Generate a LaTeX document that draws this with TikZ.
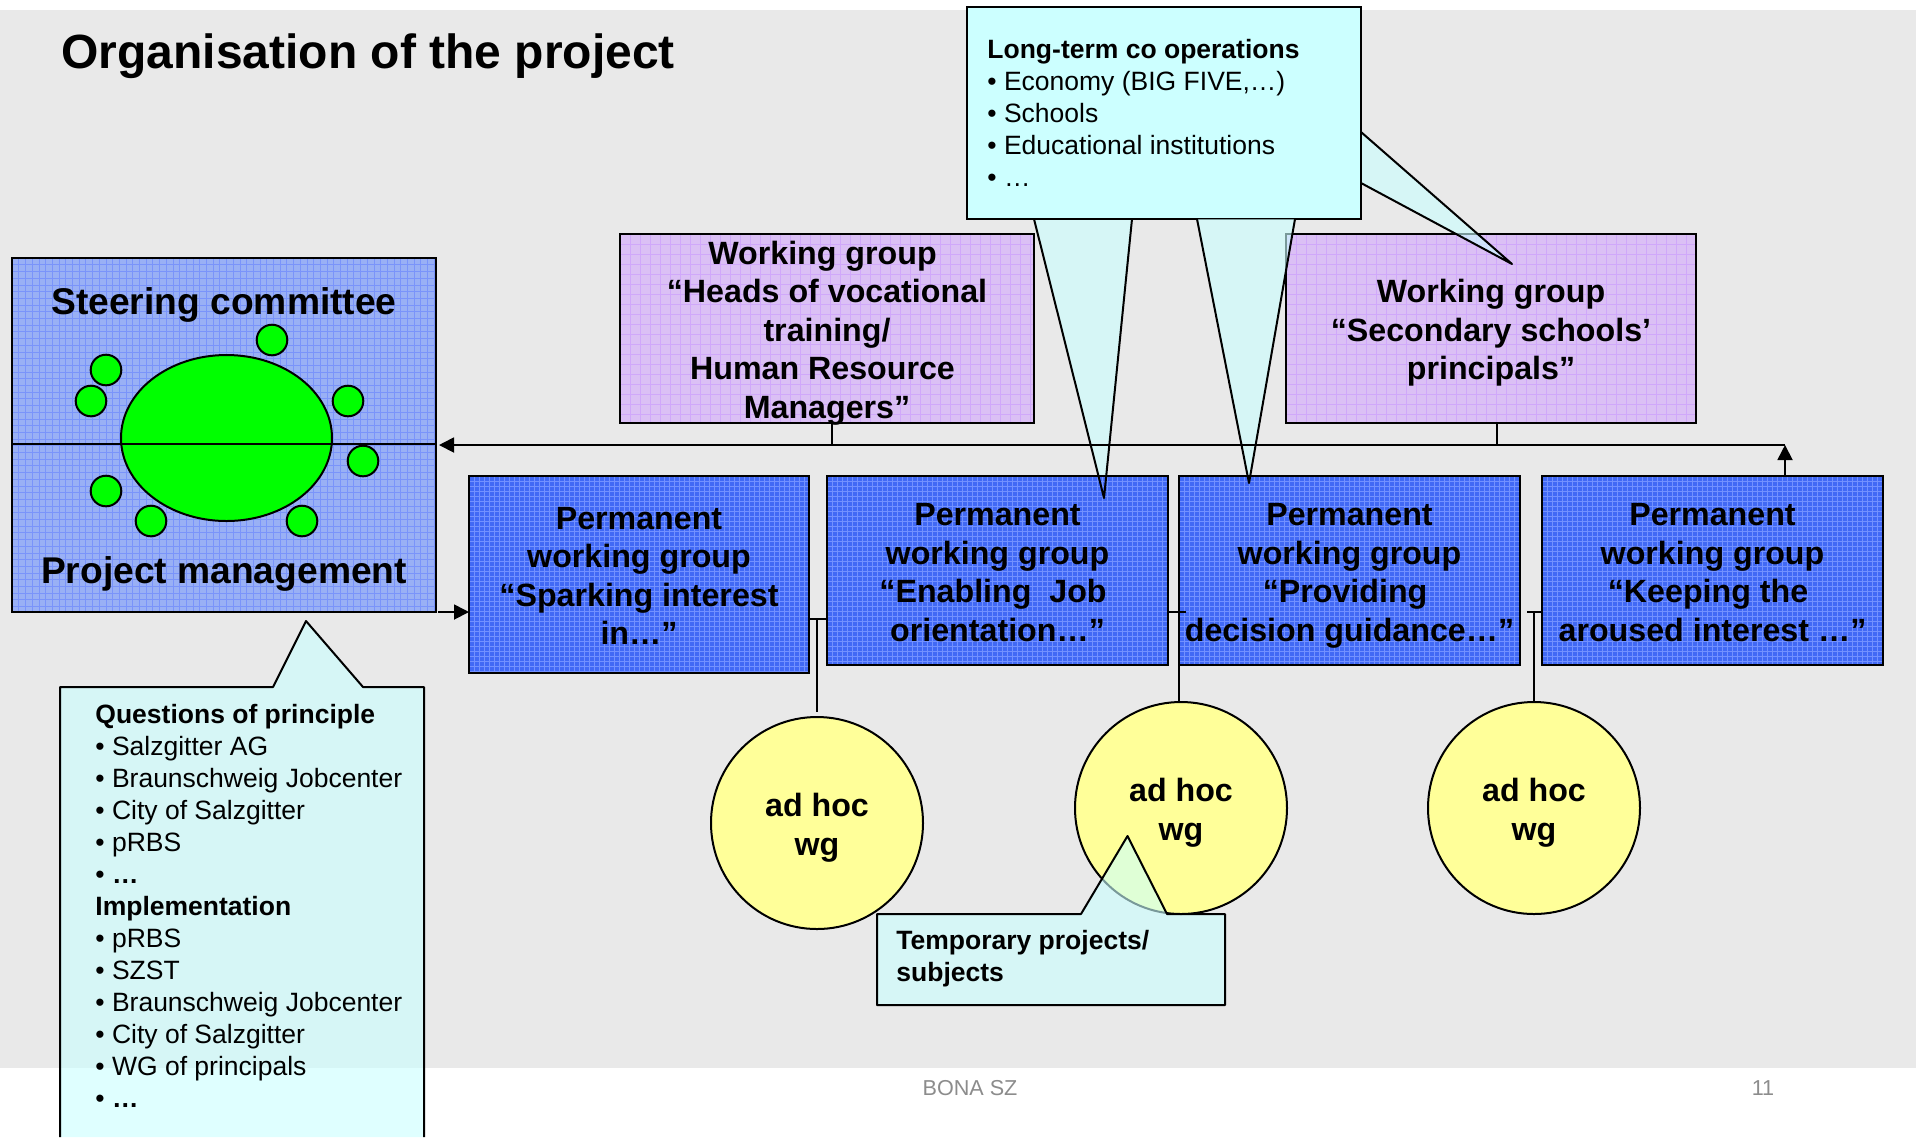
\documentclass[tikz,border=0pt]{standalone}
\usepackage{fontspec}
\setmainfont{Liberation Sans}
\usetikzlibrary{arrows.meta,shapes.geometric}
\definecolor{slide}{HTML}{E9E9E9}
\definecolor{steerblue}{HTML}{99B0F5}
\definecolor{steerline}{HTML}{7A94FA}
\definecolor{groupblue}{HTML}{4169F5}
\definecolor{groupline}{HTML}{7291FF}
\definecolor{lilac}{HTML}{DBC0F5}
\definecolor{lilacline}{HTML}{D0A8FA}
\definecolor{note}{HTML}{CCFFFF}
\definecolor{notefill}{HTML}{CAFFFF}
\definecolor{adhocfill}{HTML}{FFFF99}
\definecolor{seatgreen}{HTML}{00FF00}
\definecolor{footer}{HTML}{8C8C8C}
\newcommand{\topstrut}{\rule{0pt}{17.9pt}}
\newcommand{\botstrut}{\rule[-5pt]{0pt}{5pt}}
\newcommand{\tsp}{\ \mbox{}}

\begin{document}
\begin{tikzpicture}[x=.5pt,y=-.5pt,
		gridded/.style 2 args={path picture={
			\foreach \g in {0,#1,...,300}{
				\draw[#2,line width=.25pt] ([xshift=\g pt]path picture bounding box.north west) -- ([xshift=\g pt]path picture bounding box.south west);
				\draw[#2,line width=.25pt] ([yshift=-\g pt]path picture bounding box.north west) -- ([yshift=-\g pt]path picture bounding box.north east);
			}
		}},
		box/.style={draw=black,line width=1pt,inner sep=0pt,outer sep=0pt,align=flush center,font=\fontsize{16.1}{19.25}\bfseries\selectfont,execute at begin node=\topstrut,execute at end node=\botstrut},
		steerbox/.style={box,fill=steerblue,gridded={3.35}{steerline}},
		wgbox/.style={box,fill=lilac,gridded={5}{lilacline},minimum height=94.5pt,text width=195pt},
		pwbox/.style={box,fill=groupblue,gridded={2.5}{groupline},minimum width=170.5pt,minimum height=94.5pt,text width=168pt},
		adhoc/.style={box,circle,fill=adhocfill,minimum size=106pt,text width=80pt},
		seat/.style={draw=black,line width=1pt,circle,fill=seatgreen,minimum size=15.3pt,inner sep=0pt},
		notefilled/.style={fill=notefill,fill opacity=.6},
		noteline/.style={draw=black,line width=1pt,line join=round},
		listtext/.style={inner sep=0pt,align=left,anchor=west,font=\fontsize{13.25}{16}\selectfont},
		line/.style={line width=.9pt},
		arrow/.style={line width=.9pt,-{Triangle[length=7.5pt,width=7.5pt]}}]
		\useasboundingbox (0,0) rectangle (1916,1137);
		\fill[white] (0,0) rectangle (1916,1137);
		\fill[slide] (0,10) rectangle (1916,1068);
		\node[anchor=west,inner sep=0pt,font=\fontsize{24}{28}\bfseries\selectfont] (title) at (61,56) {Organisation of the project};

		\node[wgbox,minimum width=207pt] (heads) at (827,328.5) {};
		\node[box,draw=none,text width=195pt] (headstext) at (827,328.5) {Working group\tsp\\“Heads of vocational\\training/\\Human Resource\tsp\\Managers”};
		\node[wgbox,minimum width=205pt] (schools) at (1491,328.5) {Working group\\“Secondary schools’\\principals”};

		\coordinate (tailAl) at (1034,219);
		\coordinate (tailAr) at (1132,219);
		\coordinate (tailAtip) at (1104,498);
		\coordinate (tailBl) at (1197,219);
		\coordinate (tailBr) at (1295,219);
		\coordinate (tailBtip) at (1249,483);
		\coordinate (tailCt) at (1361,132);
		\coordinate (tailCb) at (1361,183);
		\coordinate (tailCtip) at (1512,264);
		\fill[notefilled] (tailAl) -- (tailAtip) -- (tailAr) -- cycle;
		\fill[notefilled] (tailCt) -- (tailCtip) -- (tailCb) -- cycle;
		\node[draw=black,line width=1pt,fill=note,minimum width=196.8pt,minimum height=106pt,inner sep=0pt,outer sep=0pt] (longterm) at (1164.2,113) {};
		\fill[notefilled] (tailBl) -- (tailBtip) -- (tailBr) -- cycle;
		\node[listtext] (longtermtext) at (987,113) {\textbf{Long-term co operations}\\• Economy (BIG FIVE,…)\\• Schools\\• Educational institutions\\• …};

		\coordinate (busend) at (1785,445);
		\coordinate (busA) at (832,445);
		\coordinate (busB) at (1497,445);
		\draw[line] (heads.south -| busA) -- (busA);
		\draw[line] (schools.south -| busB) -- (busB);

		\node[steerbox,minimum width=212pt,minimum height=177pt,execute at begin node={},execute at end node={}] (steer) at (224,435) {};
		\node[box,draw=none,font=\fontsize{18.6}{22}\bfseries\selectfont] (steertext) at (224,301.3) {Steering committee};
		\node[box,draw=none,font=\fontsize{18.6}{22}\bfseries\selectfont] (managetext) at (224,570.9) {Project management};
		\node[draw=black,line width=1pt,ellipse,fill=seatgreen,minimum width=105.5pt,minimum height=83pt,inner sep=0pt] (table) at (226.5,438) {};
		\foreach \x/\y [count=\n] in {272/340,106/370,91/401,348/401,363/461,106/491,151/521,302/521}{
			\node[seat] (seat\n) at (\x,\y) {};
		}
		\coordinate (split) at (226,444);
		\draw[line width=1pt] (steer.west |- split) -- (steer.east |- split);

		\node[pwbox,minimum width=170pt,minimum height=98.3pt] (pwA) at (639,574.3) {Permanent\\working group\\“Sparking interest\\in…”};
		\node[pwbox] (pwB) at (997.5,570.5) {Permanent\\working group\\“Enabling\ \ Job\tsp\\orientation…”};
		\node[pwbox] (pwC) at (1349.5,570.5) {Permanent\\working group\\“Providing\tsp\\decision guidance…”};
		\node[pwbox] (pwD) at (1712.5,570.5) {Permanent\\working group\\“Keeping the\tsp\\aroused interest …”};

		\draw[noteline] (tailAl) -- (tailAtip) -- (tailAr);
		\draw[noteline] (tailBl) -- (tailBtip) -- (tailBr);
		\draw[noteline] (tailCt) -- (tailCtip) -- (tailCb);

		\draw[arrow] (pwD.north -| busend) -- (busend);
		\draw[arrow,shorten >=1.5pt] (busend) -- (steer.east |- busend);
		\draw[arrow,shorten <=1pt] (steer.south east) -- (steer.south east -| pwA.west);

		\node[adhoc] (adhocA) at (817,823) {ad hoc\\wg};
		\node[adhoc] (adhocB) at (1181,808) {ad hoc\\wg};
		\node[adhoc] (adhocC) at (1534,808) {ad hoc\\wg};
		\coordinate (joinA) at (817,619);
		\coordinate (joinB) at (1179,612);
		\coordinate (joinBend) at (1186,612);
		\coordinate (joinC) at (1534,612);
		\coordinate (joinCstart) at (1527,612);
		\draw[line] (pwA.east |- joinA) -- (pwB.west |- joinA);
		\draw[line,shorten >=2.5pt] (joinA) -- (adhocA.north);
		\draw[line] (pwB.east |- joinB) -- (joinBend);
		\draw[line] (joinB) -- (joinB |- adhocB.north);
		\draw[line] (joinCstart) -- (pwD.west |- joinC);
		\draw[line] (joinC) -- (adhocC.north);

		\path[notefilled] (877,914) -- (1081,914) -- (1127.5,836) -- (1167,914) -- (1225,914) -- (1225,1005) -- (877,1005) -- cycle;
		\draw[noteline] (877,914) -- (1081,914) -- (1127.5,836) -- (1167,914) -- (1225,914) -- (1225,1005) -- (877,1005) -- cycle;
		\node[listtext] (temptext) at (896,959) {\textbf{Temporary projects/}\\\textbf{subjects}};

		\path[notefilled] (60,1137) -- (60,687) -- (273,687) -- (306,621) -- (363,687) -- (424,687) -- (424,1137) -- cycle;
		\draw[noteline] (60,1137) -- (60,687) -- (273,687) -- (306,621) -- (363,687) -- (424,687) -- (424,1137);
		\node[listtext] (listtext) at (95,906) {\textbf{Questions of principle}\\• Salzgitter AG\\• Braunschweig Jobcenter\\• City of Salzgitter\\• pRBS\\• \textbf{…}\\\textbf{Implementation}\\• pRBS\\• SZST\\• Braunschweig Jobcenter\\• City of Salzgitter\\• WG of principals\\• \textbf{…}};

		\node[inner sep=0pt,text=footer,font=\fontsize{10.8}{13}\selectfont] (footleft) at (970,1088) {BONA SZ};
		\node[inner sep=0pt,text=footer,font=\fontsize{10.8}{13}\selectfont] (footright) at (1763,1088) {11};
\end{tikzpicture}
\end{document}
